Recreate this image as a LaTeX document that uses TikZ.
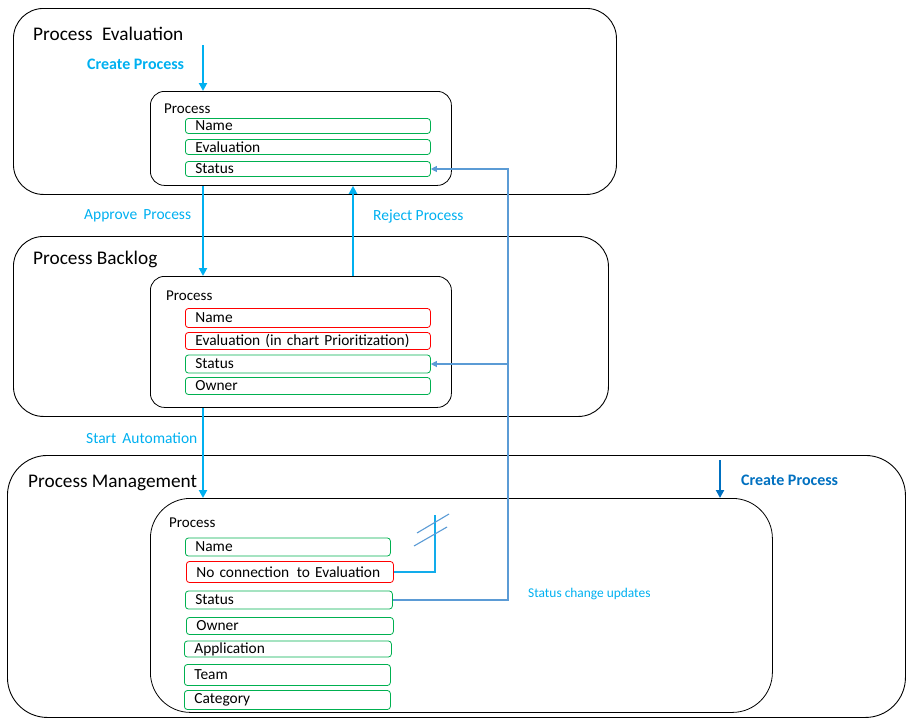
\documentclass[tikz,border=0pt]{standalone}
\usepackage{fontspec}
\setmainfont{Carlito}
\usetikzlibrary{arrows.meta}
\definecolor{flowblue}{HTML}{00B0F0}
\definecolor{darkflow}{HTML}{0070C0}
\definecolor{linkblue}{HTML}{5B9BD5}
\definecolor{okgreen}{HTML}{00B050}
\definecolor{badred}{HTML}{FF0000}
\tikzset{
	stage/.style={draw, rounded corners=30pt, line width=0.9pt, anchor=north west},
	entity/.style={draw, rounded corners=14pt, line width=0.8pt, anchor=north west},
	stagetitle/.style={anchor=west, inner sep=0pt, font=\fontsize{19.3}{21}\selectfont},
	entitytitle/.style={anchor=west, inner sep=0pt, font=\fontsize{15}{17}\selectfont},
	field/.style={draw=okgreen, rounded corners=3pt, anchor=west, inner xsep=10pt, inner ysep=0pt, align=left, line width=0.8pt, font=\fontsize{15.4}{17}\selectfont},
	badfield/.style={field, draw=badred},
	flow/.style={draw=flowblue, line width=2.6pt, -{Triangle[width=8pt,length=8pt]}},
	flowlabel/.style={text=flowblue, inner sep=0pt, font=\fontsize{15.5}{17}\selectfont},
	link/.style={draw=linkblue, line width=1.1pt},
}
\begin{document}
\begin{tikzpicture}[x=1pt,y=-1pt]
	\useasboundingbox (0,0) rectangle (912,720);
	%Evaluation stage
	\node[stage, minimum width=603pt, minimum height=186pt] (evStage) at (13,8) {};
	\node[stagetitle] (evTitle) at (33,34) {Process\hspace{5pt} Evaluation};
	\node[entity, minimum width=301pt, minimum height=94pt] (evProc) at (150,91) {};
	\node[entitytitle] (evProcTitle) at (164,109) {Process};
	\foreach \y/\t/\n in {126/Name/Name, 147/Evaluation/Eval, 169/Status/Status}
		{
			\node[field, text width=225pt, minimum height=15pt] (ev\n) at (185,\y) {\t};
		}
	%Backlog stage
	\node[stage, minimum width=595pt, minimum height=180pt] (blStage) at (13,236) {};
	\node[stagetitle] (blTitle) at (33,259) {Process Backlog};
	\node[entity, minimum width=301pt, minimum height=131pt] (blProc) at (150,276) {};
	\node[entitytitle] (blProcTitle) at (166,296) {Process};
	\node[badfield, text width=225pt, minimum height=19pt] (blName) at (185,318) {Name};
	\node[badfield, text width=225pt, minimum height=17pt] (blEval) at (185,341) {Evaluation (in chart Prioritization)};
	\node[field, text width=225pt, minimum height=18pt] (blStatus) at (185,364) {Status};
	\node[field, text width=225pt, minimum height=17pt] (blOwner) at (185,386) {Owner};
	%Management stage
	\node[stage, rounded corners=40pt, minimum width=898pt, minimum height=262pt] (mgStage) at (7,455) {};
	\node[stagetitle] (mgTitle) at (28,483) {Process Management};
	\node[entity, rounded corners=40pt, minimum width=622pt, minimum height=214pt] (mgProc) at (150,498) {};
	\node[entitytitle] (mgProcTitle) at (169,523) {Process};
	\node[field, text width=185pt, minimum height=18pt] (mgName) at (185,547) {Name};
	\node[badfield, text width=187pt, minimum height=21pt] (mgNoConn) at (186,572) {No connection\, to Evaluation};
	\node[field, text width=187pt, minimum height=18pt] (mgStatus) at (185,600) {Status};
	\node[field, text width=187pt, minimum height=17pt] (mgOwner) at (186,626) {Owner};
	\node[field, text width=187pt, minimum height=16pt] (mgApp) at (184,649) {Application};
	\node[field, text width=186pt, minimum height=21pt] (mgTeam) at (184,675) {Team};
	\node[field, text width=186pt, minimum height=19pt] (mgCat) at (184,700) {Category};
	%Flow arrows
	\coordinate (createTop) at (203,45);
	\coordinate (rejectX) at (353,0);
	\coordinate (mgCreateTop) at (720,460);
	\draw[flow] (createTop) -- (createTop |- evProc.north);
	\draw[flow] (evProc.south -| createTop) -- (blProc.north -| createTop);
	\draw[flow] (blProc.north -| rejectX) -- (evProc.south -| rejectX);
	\draw[flow] (blProc.south -| createTop) -- (mgProc.north -| createTop);
	\draw[flow, draw=darkflow] (mgCreateTop) -- (mgCreateTop |- mgProc.north);
	\node[flowlabel, anchor=west, font=\fontsize{16}{18}\bfseries] (createLbl) at (87,64) {Create Process};
	\node[flowlabel, anchor=west] (approveLbl) at (84,216) {Approve\, Process};
	\node[flowlabel, anchor=west] (rejectLbl) at (373,216) {Reject Process};
	\node[flowlabel, anchor=west] (startLbl) at (86,438) {Start\, Automation};
	\node[flowlabel, anchor=west, text=darkflow, font=\fontsize{16}{18}\bfseries] (mgCreateLbl) at (741,480) {Create Process};
	%Status links
	\coordinate (trunk) at (508,0);
	\draw[link, -{Triangle[width=6pt,length=6pt]}] (mgStatus.east) -- (mgStatus.east -| trunk) -- (trunk |- evStatus.east) -- (evStatus.east);
	\draw[link, -{Triangle[width=6pt,length=6pt]}] (trunk |- blStatus.east) -- (blStatus.east);
	\node[flowlabel, anchor=west, font=\fontsize{13.4}{15}\selectfont] (statusLbl) at (528,594) {Status change updates};
	%Broken link
	\coordinate (cutTop) at (435,515);
	\draw[link, draw=flowblue!80!linkblue] (mgNoConn.east) -- (mgNoConn.east -| cutTop) -- (cutTop);
	\draw[link] (417,533) -- (449,514);
	\draw[link] (414,546) -- (447,527);
\end{tikzpicture}
\end{document}
